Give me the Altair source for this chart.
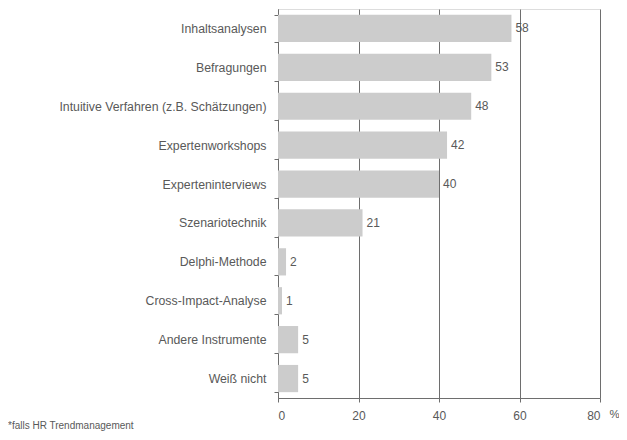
import altair as alt
import pandas as pd

categories = [
    "Inhaltsanalysen",
    "Befragungen",
    "Intuitive Verfahren (z.B. Schätzungen)",
    "Expertenworkshops",
    "Experteninterviews",
    "Szenariotechnik",
    "Delphi-Methode",
    "Cross-Impact-Analyse",
    "Andere Instrumente",
    "Weiß nicht",
]
values = [58, 53, 48, 42, 40, 21, 2, 1, 5, 5]
x_ticks = [0, 20, 40, 60, 80]
footnote = "*falls HR Trendmanagement"

df = pd.DataFrame({"Kategorie": categories, "Wert": values})

FONT = "Liberation Sans"
TXT = "#595959"
LINE = "#6e6e6e"

x_enc = alt.X(
    "Wert:Q",
    scale=alt.Scale(domain=[0, 80], nice=False, zero=True),
    axis=alt.Axis(
        values=x_ticks,
        title="%",
        titleX=331,
        titleY=10,
        titleAlign="left",
        titleBaseline="top",
        titleAngle=0,
        titleFont=FONT,
        titleFontSize=11.5,
        titleFontWeight="normal",
        titleColor=TXT,
        grid=True,
        gridColor=LINE,
        gridWidth=1,
        domainColor=LINE,
        tickColor=LINE,
        tickSize=4,
        labelPadding=8,
        labelFont=FONT,
        labelFontSize=12,
        labelColor=TXT,
    ),
)
y_enc = alt.Y(
    "Kategorie:N",
    sort=categories,
    scale=alt.Scale(paddingInner=0.3, paddingOuter=0.15),
    axis=alt.Axis(
        title=None,
        tickBand="extent",
        tickSize=4,
        tickColor=LINE,
        domainColor=LINE,
        labelPadding=8,
        labelFont=FONT,
        labelFontSize=12.3,
        labelColor=TXT,
        labelLimit=400,
    ),
)

bars = alt.Chart(df).mark_bar(color="#cccccc").encode(x=x_enc, y=y_enc)
labels = alt.Chart(df).mark_text(
    align="left", baseline="middle", dx=4, font=FONT, fontSize=12, color=TXT
).encode(x="Wert:Q", y=alt.Y("Kategorie:N", sort=categories), text="Wert:Q")

chart = (
    alt.layer(bars, labels)
    .properties(
        width=322,
        height=389,
        autosize=alt.AutoSizeParams(type="none"),
        padding={"left": 270, "top": 1, "right": 19, "bottom": 34},
        title=alt.TitleParams(
            footnote,
            orient="bottom",
            anchor="start",
            frame="group",
            dx=-270,
            offset=0,
            font=FONT,
            fontSize=10,
            fontWeight="normal",
            color=TXT,
        ),
    )
    .configure_view(stroke="#b0b0b0", strokeWidth=1)
    .configure(background="white")
)

chart.save("out.html", embed_options={"renderer": "svg", "actions": False})
